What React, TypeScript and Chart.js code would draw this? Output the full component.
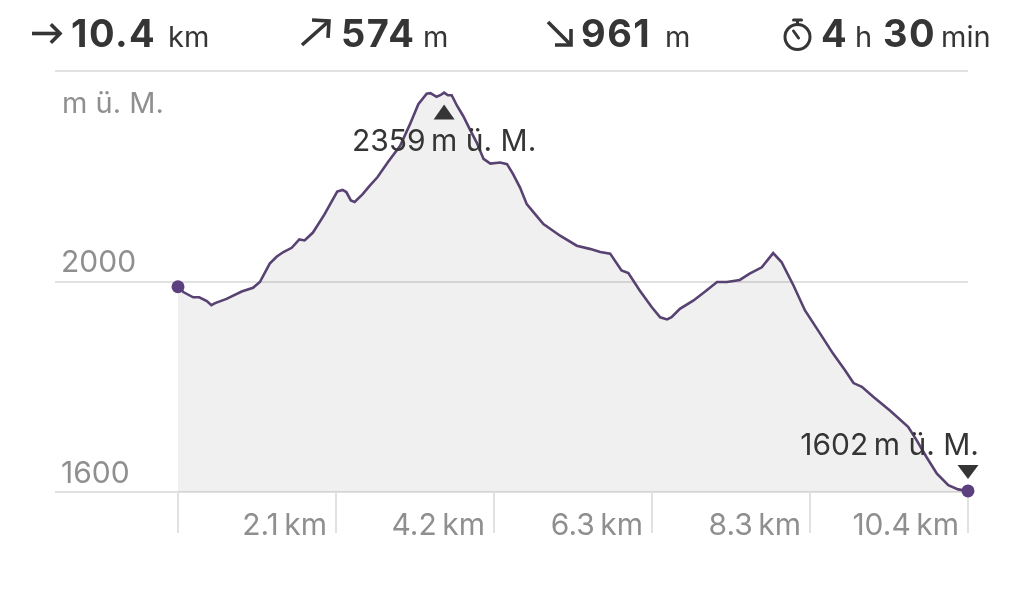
import React, { useEffect, useRef } from "react";
import { Chart, registerables } from "chart.js";

Chart.register(...registerables);

// ---------- data ----------
const distanceKm = [
  0, 0.07, 0.2, 0.28, 0.38, 0.44, 0.49, 0.64, 0.84, 0.99,
  1.08, 1.21, 1.3, 1.39, 1.5, 1.6, 1.67, 1.78, 1.93, 2.1,
  2.17, 2.22, 2.28, 2.33, 2.43, 2.53, 2.63, 2.77, 2.93, 3.06,
  3.17, 3.28, 3.33, 3.41, 3.46, 3.51, 3.56, 3.61, 3.68, 3.76,
  3.85, 3.94, 4.03, 4.12, 4.25, 4.34, 4.42, 4.51, 4.6, 4.71,
  4.82, 5.04, 5.26, 5.43, 5.57, 5.7, 5.85, 5.94, 6.09, 6.25,
  6.36, 6.45, 6.51, 6.62, 6.8, 6.97, 7.11, 7.24, 7.41, 7.54,
  7.7, 7.85, 7.96, 8.12, 8.27, 8.47, 8.64, 8.8, 8.91, 9.02,
  9.17, 9.39, 9.63, 9.74, 9.87, 10.01, 10.16, 10.29, 10.42,
];
const elevationM = [
  1990, 1980, 1970, 1970, 1963, 1955, 1959, 1967, 1981, 1988,
  1999, 2034, 2047, 2056, 2064, 2080, 2078, 2093, 2127, 2171,
  2174, 2170, 2154, 2151, 2165, 2182, 2198, 2227, 2258, 2299,
  2337, 2357, 2358, 2351, 2354, 2359, 2354, 2354, 2334, 2315,
  2289, 2264, 2233, 2224, 2226, 2223, 2204, 2179, 2147, 2128,
  2109, 2087, 2068, 2062, 2056, 2053, 2021, 2016, 1983, 1951,
  1932, 1928, 1932, 1948, 1964, 1983, 1999, 1999, 2003, 2015,
  2027, 2054, 2037, 1992, 1945, 1901, 1863, 1831, 1807, 1800,
  1781, 1755, 1724, 1699, 1667, 1635, 1613, 1605, 1602,
];
const xMaxKm = 10.42;
const xTickLabels = ["", "2.1\u2009km", "4.2\u2009km", "6.3\u2009km", "8.3\u2009km", "10.4\u2009km"];
const yMin = 1600;
const yMax = 2400;
const yTickValues = [1600, 2000, 2400];
const yTickLabels = ["1600", "2000", ""];
const yAxisTitle = "m ü. M.";
const elevationSuffix = "\u2009m ü. M.";

const totalDistance = "10.4";
const totalAscent = "574";
const totalDescent = "961";
const durationHours = "4";
const durationMinutes = "30";

// ---------- styles ----------
const FONT = "Inter, 'Noto Sans', sans-serif";
const LINE_COLOR = "#574272";
const DOT_COLOR = "#5b3f7e";
const GRID_COLOR = "#e1e1e1";
const LABEL_COLOR = "#8f8f8f";
const TEXT_COLOR = "#353535";

function drawStopwatch(ctx: CanvasRenderingContext2D, cx: number, cy: number) {
  ctx.save();
  ctx.strokeStyle = TEXT_COLOR;
  ctx.lineWidth = 3;
  ctx.lineCap = "round";
  ctx.beginPath();
  ctx.arc(cx, cy, 12.5, 0, Math.PI * 2);
  ctx.stroke();
  ctx.beginPath();
  ctx.moveTo(cx, cy - 13);
  ctx.lineTo(cx, cy - 16.5);
  ctx.stroke();
  ctx.beginPath();
  ctx.moveTo(cx - 4, cy - 17);
  ctx.lineTo(cx + 4, cy - 17);
  ctx.stroke();
  ctx.beginPath();
  ctx.moveTo(cx - 4, cy - 6);
  ctx.lineTo(cx + 1, cy + 1);
  ctx.stroke();
  ctx.restore();
}

function drawArrow(
  ctx: CanvasRenderingContext2D,
  x0: number, y0: number, x1: number, y1: number, head: number
) {
  const ang = Math.atan2(y1 - y0, x1 - x0);
  ctx.save();
  ctx.strokeStyle = TEXT_COLOR;
  ctx.lineWidth = 3.6;
  ctx.lineCap = "butt";
  ctx.lineJoin = "miter";
  ctx.beginPath();
  ctx.moveTo(x0, y0);
  ctx.lineTo(x1 - Math.cos(ang) * 1.5, y1 - Math.sin(ang) * 1.5);
  ctx.stroke();
  ctx.beginPath();
  const a1 = ang + Math.PI - Math.PI / 4;
  const a2 = ang + Math.PI + Math.PI / 4;
  ctx.moveTo(x1 + Math.cos(a1) * head, y1 + Math.sin(a1) * head);
  ctx.lineTo(x1, y1);
  ctx.lineTo(x1 + Math.cos(a2) * head, y1 + Math.sin(a2) * head);
  ctx.stroke();
  ctx.restore();
}

const profilePlugin = {
  id: "profileDecor",
  beforeDatasetsDraw(chart: any) {
    const { ctx, chartArea, scales } = chart;
    const x = scales.x;
    const y = scales.y;
    ctx.save();
    ctx.strokeStyle = GRID_COLOR;
    ctx.lineWidth = 2;
    // horizontal grid lines
    yTickValues.forEach((v) => {
      const py = Math.round(y.getPixelForValue(v));
      ctx.beginPath();
      ctx.moveTo(55, py);
      ctx.lineTo(chartArea.right, py);
      ctx.stroke();
    });
    // y labels
    ctx.fillStyle = LABEL_COLOR;
    ctx.font = `30px ${FONT}`;
    ctx.textAlign = "left";
    ctx.textBaseline = "alphabetic";
    yTickValues.forEach((v, i) => {
      if (!yTickLabels[i]) return;
      const py = y.getPixelForValue(v);
      ctx.fillText(yTickLabels[i], 61, py - 9.5);
    });
    ctx.font = `29px ${FONT}`;
    ctx.fillText(yAxisTitle, 62, 113);
    // x ticks
    const n = xTickLabels.length - 1;
    ctx.font = `30px ${FONT}`;
    ctx.textAlign = "right";
    for (let i = 0; i <= n; i++) {
      const px = Math.round(x.getPixelForValue((xMaxKm * i) / n));
      ctx.beginPath();
      ctx.moveTo(px, chartArea.bottom);
      ctx.lineTo(px, 533);
      ctx.stroke();
      if (xTickLabels[i]) ctx.fillText(xTickLabels[i], px - 9, 535);
    }
    ctx.restore();
  },
  afterDatasetsDraw(chart: any) {
    const { ctx, scales } = chart;
    const x = scales.x;
    const y = scales.y;
    ctx.save();
    // peak annotation
    let maxI = 0;
    elevationM.forEach((v, i) => {
      if (v > elevationM[maxI]) maxI = i;
    });
    const mx = x.getPixelForValue(distanceKm[maxI]);
    const my = y.getPixelForValue(elevationM[maxI]);
    ctx.fillStyle = TEXT_COLOR;
    ctx.beginPath();
    ctx.moveTo(mx, my + 12);
    ctx.lineTo(mx + 10.5, my + 27);
    ctx.lineTo(mx - 10.5, my + 27);
    ctx.closePath();
    ctx.fill();
    ctx.font = `30px ${FONT}`;
    ctx.textAlign = "center";
    ctx.textBaseline = "alphabetic";
    ctx.fillText(`${elevationM[maxI]}${elevationSuffix}`, mx, my + 58);
    // end annotation
    const last = elevationM.length - 1;
    const ex = x.getPixelForValue(distanceKm[last]);
    const ey = y.getPixelForValue(elevationM[last]);
    ctx.beginPath();
    ctx.moveTo(ex, ey - 12);
    ctx.lineTo(ex + 10.5, ey - 26);
    ctx.lineTo(ex - 10.5, ey - 26);
    ctx.closePath();
    ctx.fill();
    ctx.textAlign = "right";
    ctx.fillText(`${elevationM[last]}${elevationSuffix}`, ex + 11, ey - 36);

    // header
    const base = 47;
    ctx.textAlign = "left";
    ctx.fillStyle = TEXT_COLOR;
    drawArrow(ctx, 32, 33.5, 60, 33.5, 13);
    drawArrow(ctx, 302, 45, 329, 21, 17);
    drawArrow(ctx, 548, 22, 571, 45, 16);
    drawStopwatch(ctx, 797.5, 37);
    ctx.font = `bold 38px ${FONT}`;
    (ctx as any).letterSpacing = "1.5px";
    ctx.fillText(totalDistance, 71, base);
    ctx.fillText(totalAscent, 341, base);
    ctx.fillText(totalDescent, 581, base);
    ctx.fillText(durationHours, 821, base);
    ctx.fillText(durationMinutes, 883, base);
    (ctx as any).letterSpacing = "0px";
    ctx.font = `29px ${FONT}`;
    ctx.fillText("km", 168, base);
    ctx.fillText("m", 423, base);
    ctx.fillText("m", 665, base);
    ctx.fillText("h", 855, base);
    ctx.fillText("min", 941, base);
    ctx.restore();
  },
};

export default function App() {
  const canvasRef = useRef<HTMLCanvasElement | null>(null);

  useEffect(() => {
    const canvas = canvasRef.current;
    if (!canvas) return;
    const data = distanceKm.map((d, i) => ({ x: d, y: elevationM[i] }));
    const last = data.length - 1;
    const chart = new Chart(canvas, {
      type: "line",
      data: {
        datasets: [
          {
            data,
            borderColor: LINE_COLOR,
            borderWidth: 2.6,
            tension: 0,
            fill: { value: yMin },
            backgroundColor: "rgba(0,0,0,0.058)",
            pointRadius: (c: any) => (c.dataIndex === 0 || c.dataIndex === last ? 6.5 : 0),
            pointBackgroundColor: DOT_COLOR,
            pointBorderWidth: 0,
            clip: false as any,
          },
        ],
      },
      options: {
        animation: false,
        responsive: false,
        devicePixelRatio: 1,
        layout: { padding: { left: 178, right: 56, top: 71, bottom: 112 } },
        plugins: { legend: { display: false }, tooltip: { enabled: false } },
        scales: {
          x: { type: "linear", min: 0, max: xMaxKm, display: false },
          y: { type: "linear", min: yMin, max: yMax, display: false },
        },
      },
      plugins: [profilePlugin],
    });
    return () => chart.destroy();
  }, []);

  return (
    <div style={{ position: "fixed", left: 0, top: 0, width: 1024, height: 604, background: "#fff" }}>
      <canvas ref={canvasRef} width={1024} height={604} style={{ display: "block" }} />
    </div>
  );
}
